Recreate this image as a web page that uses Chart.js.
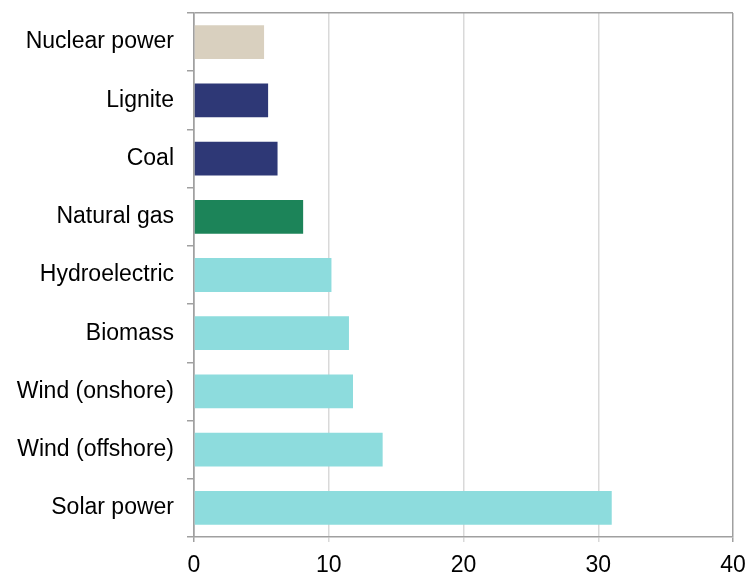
<!DOCTYPE html>
<html>
<head>
<meta charset="utf-8">
<script src="https://cdn.jsdelivr.net/npm/chart.js@4"></script>
<style>
  html,body{margin:0;padding:0;background:#fff;}
  #wrap{width:747px;height:573px;}
</style>
</head>
<body>
<div id="wrap"><canvas id="chart" width="747" height="573"></canvas></div>
<script>
/* ============================
   Generation cost by source
============================ */
const sources = ['Nuclear power','Lignite','Coal','Natural gas','Hydroelectric','Biomass','Wind (onshore)','Wind (offshore)','Solar power'];
const values  = [5.2, 5.5, 6.2, 8.1, 10.2, 11.5, 11.8, 14.0, 31.0];
const xTicks  = [0, 10, 20, 30, 40];

const barColors = ['#d9d0bf','#2e3876','#2e3876','#1c8459','#8ddcdd','#8ddcdd','#8ddcdd','#8ddcdd','#8ddcdd'];
const axisGray = '#a0a0a0', gridGray = '#d9d9d9';
const font = { family: 'Arial, "Liberation Sans", sans-serif', size: 23 };

const ctx = document.getElementById('chart').getContext('2d');
new Chart(ctx, {
  type: 'bar',
  data: { labels: sources, datasets: [{ data: values, backgroundColor: barColors, borderWidth: 0,
          categoryPercentage: 1, barPercentage: 0.58 }] },
  options: {
    indexAxis: 'y', responsive: false, animation: false,
    layout: { padding: { top: 13, right: 14, left: 0, bottom: 0 } },
    plugins: { legend: { display: false }, tooltip: { enabled: false } },
    scales: {
      x: {
        min: 0, max: 40,
        afterBuildTicks: s => { s.ticks = xTicks.map(v => ({ value: v })); },
        afterFit: s => { s.height = 36; s.paddingLeft = 0; s.paddingRight = 0; },
        grid: { color: c => (c.tick && (c.tick.value === 0 || c.tick.value === 40)) ? axisGray : gridGray,
                lineWidth: 1.5, tickLength: 5 },
        border: { color: axisGray, width: 1.5 },
        ticks: { font, color: '#000', padding: 10, maxRotation: 0 }
      },
      y: {
        afterFit: s => { s.width = 194; s.paddingTop = 0; s.paddingBottom = 0; },
        grid: { color: c => c.index === 0 ? axisGray : 'rgba(0,0,0,0)', tickColor: axisGray,
                lineWidth: 1.5, tickLength: 7 },
        border: { color: axisGray, width: 1.5 },
        ticks: { font, color: '#000', padding: 13 }
      }
    }
  }
});
</script>
</body>
</html>
